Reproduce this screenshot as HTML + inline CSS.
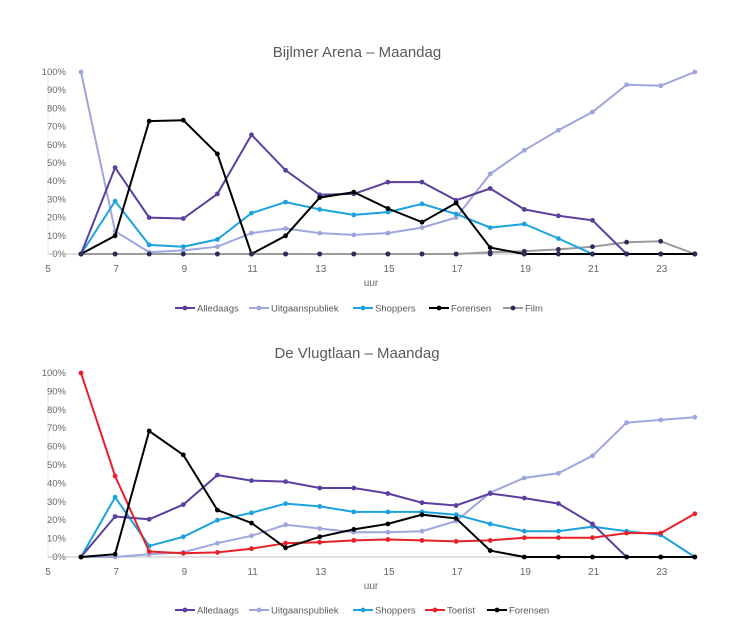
<!DOCTYPE html>
<html><head><meta charset="utf-8"><style>
body{margin:0;background:#fff;width:746px;height:627px;overflow:hidden}
svg{display:block;font-family:"Liberation Sans",sans-serif}
</style></head><body>
<svg id="s" width="746" height="627" xmlns="http://www.w3.org/2000/svg"></svg>
<script>
const s=document.getElementById('s');let h='';
const C={a:'#5a3f9e',u:'#9ea6dd',sh:'#1ca2dc',f:'#000',film:'#9a9a9a',t:'#e8202a'};
function chart(y0,y100,title,ty,series,legend,ly){
 const X=v=>81+(v-6)*34.1, Y=p=>y0-(y0-y100)*p/100;
 h+=`<text x="357" y="${ty}" text-anchor="middle" font-size="15" fill="#595959">${title}</text>`;
 h+=`<line x1="48" y1="${y100}" x2="48" y2="${y0}" stroke="#e6e6e6"/>`;
 for(let i=0;i<=10;i++)h+=`<text x="66" y="${Y(i*10)+3}" text-anchor="end" font-size="9.5" fill="#666">${i*10}%</text>`;
 h+=`<line x1="48" y1="${y0}" x2="696" y2="${y0}" stroke="#bfbfbf"/>`;
 for(let v=5;v<=23;v+=2)h+=`<text x="${48+(v-5)*34.1}" y="${y0+18}" text-anchor="middle" font-size="10" fill="#666">${v}</text>`;
 h+=`<text x="371" y="${y0+32}" text-anchor="middle" font-size="10" fill="#666">uur</text>`;
 for(const [c,m,d] of series){
  const pts=d.map((p,i)=>`${X(i+6).toFixed(1)},${Y(p).toFixed(1)}`);
  h+=`<polyline points="${pts.join(' ')}" fill="none" stroke="${c}" stroke-width="2"/>`;
  pts.forEach(p=>{const[a,b]=p.split(',');h+=`<circle cx="${a}" cy="${b}" r="2.4" fill="${m}"/>`});
 }
 for(const [x,c,m,t] of legend){
  h+=`<line x1="${x}" y1="${ly}" x2="${x+20}" y2="${ly}" stroke="${c}" stroke-width="2"/><circle cx="${x+10}" cy="${ly}" r="2.4" fill="${m}"/><text x="${x+22}" y="${ly+3.5}" font-size="9.5" fill="#595959">${t}</text>`;
 }
}
chart(254,72,'Bijlmer Arena – Maandag',57,[
 [C.film,'#2e2a5c',[0,0,0,0,0,0,0,0,0,0,0,0,1,1.5,2.5,4,6.5,7,0]],
 [C.u,C.u,[100,12.5,1,2,4,11.5,14,11.5,10.5,11.5,14.5,20,44,57,68,78,93,92.5,100]],
 [C.sh,C.sh,[0,29,5,4,8,22.5,28.5,24.5,21.5,23,27.5,22,14.5,16.5,8.5,0,0,0,0]],
 [C.a,C.a,[0,47.5,20,19.5,33,65.5,46,32.5,33,39.5,39.5,29.5,36,24.5,21,18.5,0,0,0]],
 [C.f,C.f,[0,10,73,73.5,55,0,10,31,34,25,17.5,28,3.5,0,0,0,0,0,0]],
 [C.film,'#2e2a5c',[0,0,0,0,0,0,0,0,0,0,0,0,0,0,0,0,0,0,0].map(()=>0)].map((v,i)=>v)
].slice(0,5).concat([[ 'none','#2e2a5c',[0,0,0,0,0,0,0,0,0,0,0,0,1,1.5,2.5,4,6.5,7,0].map((v,i)=>0)]]),
[[175,C.a,C.a,'Alledaags'],[249,C.u,C.u,'Uitgaanspubliek'],[353,C.sh,C.sh,'Shoppers'],[429,C.f,C.f,'Forensen'],[503,C.film,'#2e2a5c','Film']],308);
chart(557,373,'De Vlugtlaan – Maandag',358,[
 [C.u,C.u,[0,0,1.5,2.5,7.5,11.5,17.5,15.5,13.5,13.5,14,19.5,35,43,45.5,55,73,74.5,76]],
 [C.sh,C.sh,[0,32.5,6,11,20,24,29,27.5,24.5,24.5,24.5,23,18,14,14,16.5,14,12,0]],
 [C.a,C.a,[0,22,20.5,28.5,44.5,41.5,41,37.5,37.5,34.5,29.5,28,34.5,32,29,18,0,0,0]],
 [C.t,C.t,[100,44,3,2,2.5,4.5,7.5,8,9,9.5,9,8.5,9,10.5,10.5,10.5,13,13,23.5]],
 [C.f,C.f,[0,1.5,68.5,55.5,25.5,18.5,5,11,15,18,23,21,3.5,0,0,0,0,0,0]]
],[[175,C.a,C.a,'Alledaags'],[249,C.u,C.u,'Uitgaanspubliek'],[353,C.sh,C.sh,'Shoppers'],[425,C.t,C.t,'Toerist'],[487,C.f,C.f,'Forensen']],610);
s.innerHTML=h;
</script>
</body></html>
